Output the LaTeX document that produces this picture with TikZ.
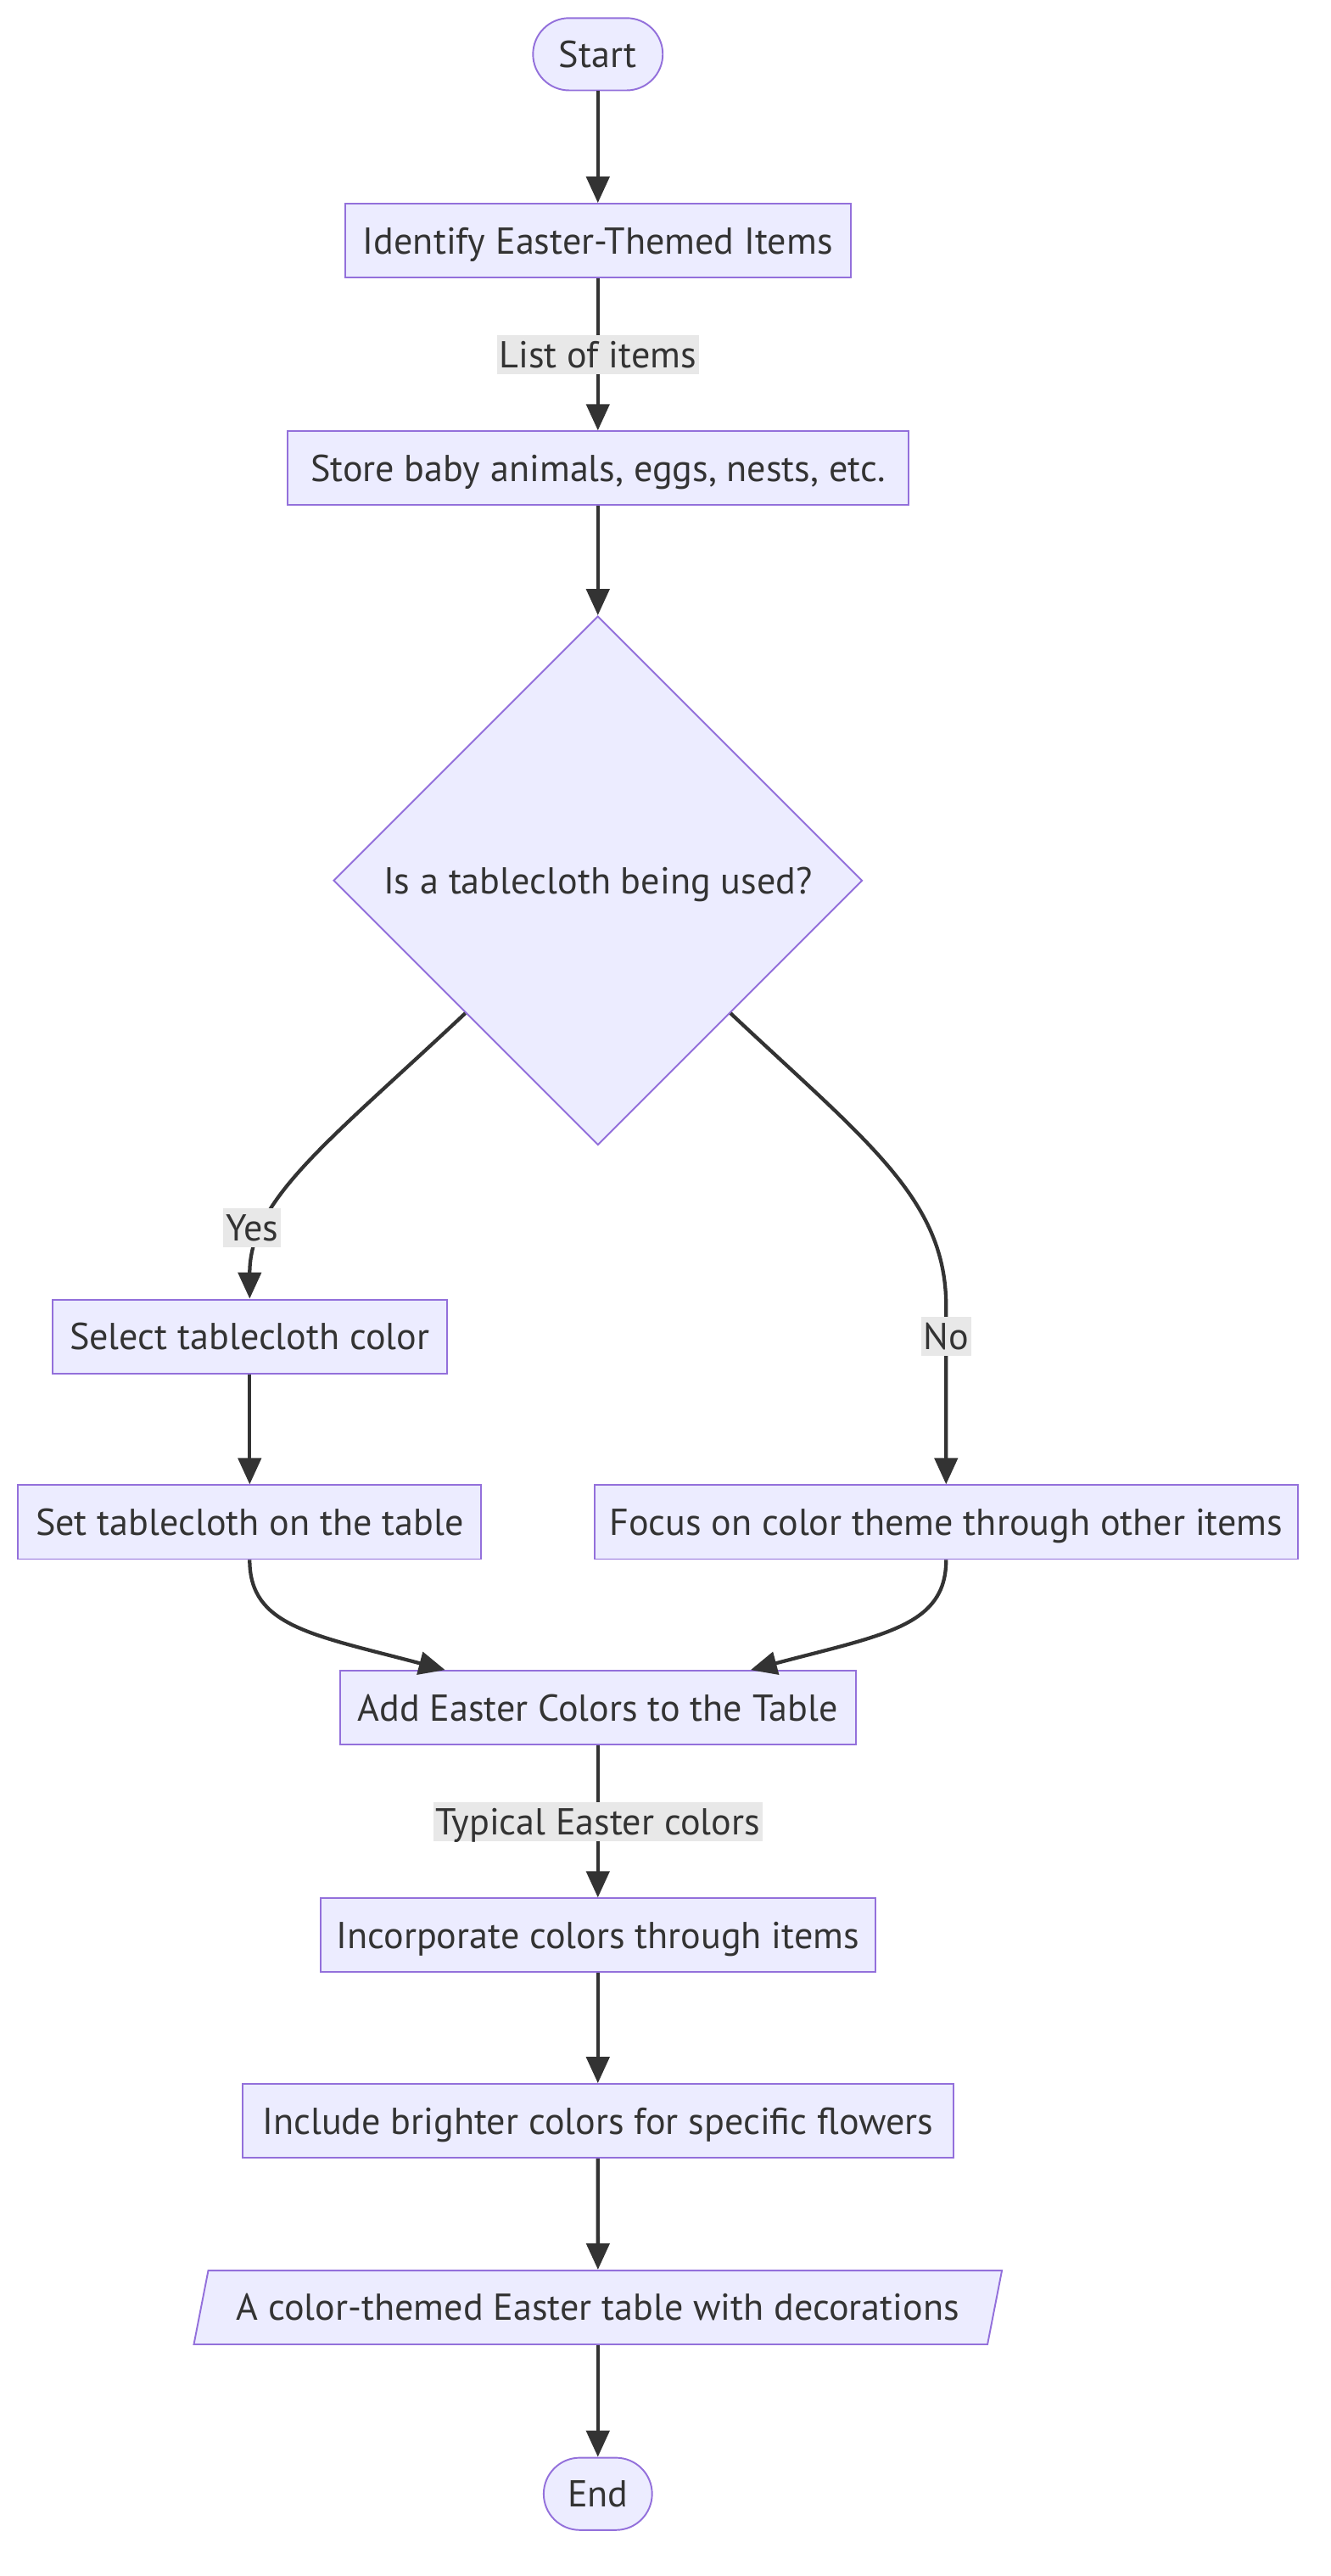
\documentclass[tikz,border=0pt]{standalone}
\usepackage{fontspec}
\setmainfont{PT Sans}
\usetikzlibrary{shapes.geometric,arrows.meta,positioning}
\definecolor{NodeFill}{HTML}{ECECFF}
\definecolor{NodeLine}{HTML}{9370DB}
\definecolor{InkGrey}{HTML}{333333}
\definecolor{LabelBack}{HTML}{E8E8E8}

\begin{document}
\begin{tikzpicture}[x=1pt, y=1pt,
      box/.style={rectangle, draw=NodeLine, fill=NodeFill, line width=1pt,
                  minimum height=45pt, inner sep=0pt, text=InkGrey,
                  text height=16pt, text depth=0pt,
                  font=\fontsize{22.8}{26}\selectfont},
      term/.style={box, rounded corners=22pt, minimum height=44pt},
      dec/.style={box, diamond, aspect=1, minimum width=322pt, minimum height=322pt},
      io/.style={box, trapezium, trapezium left angle=63, trapezium right angle=117,
                 trapezium stretches=true},
      lbl/.style={fill=LabelBack, text=InkGrey, inner sep=1.5pt,
                  text height=18.5pt, text depth=2.5pt,
                  font=\fontsize{22.8}{26}\selectfont},
      arrow/.style={-{Triangle[length=16pt, width=14pt]}, line width=2.2pt, draw=InkGrey}
    ]
      \useasboundingbox (0,0) rectangle (810,-1568);
      \node[term, minimum width=79pt] (start) at (364,-33) {Start};
      \node[box, minimum width=308pt] (ident) at (364,-146.5) {Identify Easter-Themed Items};
      \node[box, minimum width=378pt] (store) at (364,-285) {Store baby animals, eggs, nests, etc.};
      \node[dec] (cloth) at (364,-536) {Is a tablecloth being used?};
      \node[box, minimum width=240pt] (select) at (152,-813.5) {Select tablecloth color};
      \node[box, minimum width=282pt] (setcloth) at (152,-926.5) {Set tablecloth on the table};
      \node[box, minimum width=428pt] (focus) at (576,-926.5) {Focus on color theme through other items};
      \node[box, minimum width=314pt] (addcol) at (364,-1039.5) {Add Easter Colors to the Table};
      \node[box, minimum width=338pt] (incorp) at (364,-1178) {Incorporate colors through items};
      \node[box, minimum width=433pt] (bright) at (364,-1291) {Include brighter colors for specific flowers};
      \node[io, minimum width=494pt] (result) at (364,-1404.5) {A color-themed Easter table with decorations};
      \node[term, minimum width=66pt] (finish) at (364,-1518) {End};
      \foreach \a/\b in {start/ident, store/cloth, select/setcloth,
                         incorp/bright, bright/result, result/finish}{
        \draw[arrow] (\a)--(\b);
      }
      \draw[arrow] (ident)-- node[lbl]{List of items} (store);
      \draw[arrow] (addcol)-- node[lbl]{Typical Easter colors} (incorp);
      \draw[arrow] (cloth.south west) .. controls (200,-695) and (152,-730) ..
        node[lbl, pos=0.74, xshift=-8pt]{Yes} (select.north);
      \draw[arrow] (cloth.south east) .. controls (528,-695) and (576,-730) .. (576,-795)
        -- node[lbl, pos=0.17]{No} (focus.north);
      \draw[arrow] (setcloth.south) .. controls (152,-990) and (190,-995) ..
        ([xshift=-93pt]addcol.north);
      \draw[arrow] (focus.south) .. controls (576,-990) and (538,-995) ..
        ([xshift=93pt]addcol.north);
    \end{tikzpicture}
\end{document}
